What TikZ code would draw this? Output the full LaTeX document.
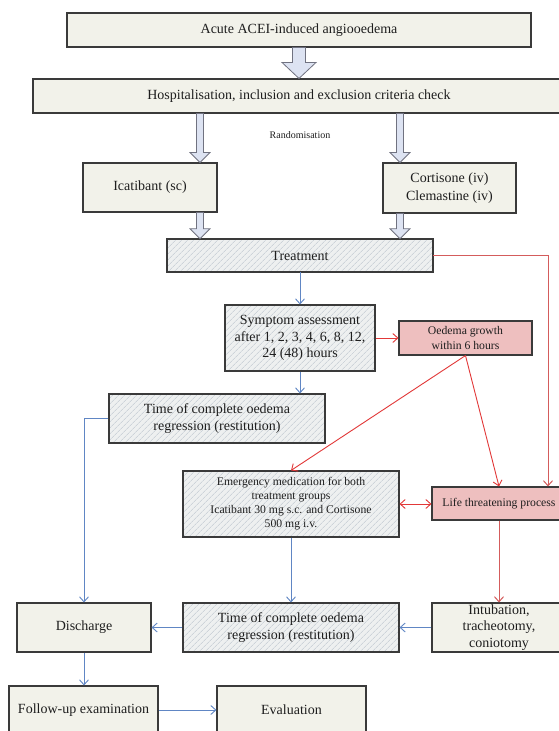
\documentclass[tikz,border=0pt]{standalone}
\usepackage{fontspec}
\setmainfont{Liberation Serif}
\usetikzlibrary{arrows.meta,patterns.meta,calc}
\definecolor{boxfill}{RGB}{242,242,234}
\definecolor{hatchbg}{RGB}{238,240,240}
\definecolor{hatchln}{RGB}{188,196,206}
\definecolor{pinkbg}{RGB}{240,196,196}
\definecolor{pinkdot}{RGB}{218,146,146}
\definecolor{edge}{RGB}{58,58,58}
\definecolor{bluel}{RGB}{96,134,196}
\definecolor{redl}{RGB}{226,56,56}
\definecolor{redsoft}{RGB}{212,92,92}
\definecolor{hafill}{RGB}{221,227,242}
\definecolor{haedge}{RGB}{112,114,128}
\definecolor{txt}{RGB}{30,30,30}
\tikzset{
 box/.style={draw=edge, line width=1.1pt, fill=boxfill, inner sep=0pt, align=center, text=txt, font=\fontsize{14}{16.5}\selectfont},
 hatched/.style={box, fill=none, preaction={fill=hatchbg}, pattern={Lines[angle=45,distance=4pt,line width=0.6pt]}, pattern color=hatchln},
 pinkbox/.style={box, fill=none, preaction={fill=pinkbg}, pattern={Dots[distance=2pt,radius=0.45pt]}, pattern color=pinkdot, font=\fontsize{11.7}{15}\selectfont},
 bluearr/.style={draw=bluel, line width=0.9pt, -{Straight Barb[length=5pt,width=9pt]}},
 redarr/.style={draw=redl, line width=0.9pt, -{Straight Barb[length=5pt,width=9pt]}},
 softredarr/.style={redarr, draw=redsoft, line width=1pt},
 hollow/.style={draw=haedge, fill=hafill, line width=0.8pt, line join=miter},
}
\newcommand\hollowarrow[5]{%
 \path[hollow] let \p1=#1, \p2=#2 in
 (\x1-#3,\y1) -- (\x1-#3,\y2+#5) -- (\x1-#4,\y2+#5) -- (\x1,\y2) --
 (\x1+#4,\y2+#5) -- (\x1+#3,\y2+#5) -- (\x1+#3,\y1) -- cycle;}
\begin{document}
\begin{tikzpicture}[x=1pt,y=-1pt]
\useasboundingbox (0,0) rectangle (559,731);
\clip (0,0) rectangle (559,731);
\fill[white] (0,0) rectangle (559,731);
% columns
\coordinate (colL) at (200,0);
\coordinate (colR) at (400,0);
\coordinate (redx) at (548,0);
% nodes
\node[box, minimum width=464pt, minimum height=34pt] (acute) at (299,30) {Acute ACEI-induced angiooedema};
\node[box, minimum width=532pt, minimum height=34pt] (hosp) at (299,96) {Hospitalisation, inclusion and exclusion criteria check};
\node[text=txt, font=\fontsize{10}{12}\selectfont, inner sep=0pt] (rand) at (300,135) {Randomisation};
\node[box, minimum width=134pt, minimum height=49pt] (icat) at (150,187.5) {Icatibant (sc)};
\node[box, minimum width=133pt, minimum height=50pt, font=\fontsize{14}{17.5}\selectfont] (cort) at (449.5,188) {Cortisone (iv)\\Clemastine (iv)};
\node[hatched, minimum width=266pt, minimum height=33pt] (treat) at (300,255.5) {Treatment};
\node[hatched, minimum width=150pt, minimum height=66pt] (symp) at (300,338) {Symptom assessment\\after 1, 2, 3, 4, 6, 8, 12,\\24 (48) hours};
\node[pinkbox, minimum width=133pt, minimum height=34pt] (oed) at (465.5,338) {Oedema growth\\within 6 hours};
\node[hatched, minimum width=216pt, minimum height=49pt] (time1) at (217,418.5) {Time of complete oedema\\regression (restitution)};
\node[hatched, minimum width=216pt, minimum height=66pt, font=\fontsize{11.7}{14}\selectfont] (emerg) at (291,504) {Emergency medication for both\\treatment groups\\Icatibant 30 mg s.c. and Cortisone\\500 mg i.v.};
\node[pinkbox, minimum width=134pt, minimum height=33pt] (life) at (499,503.5) {Life threatening process};
\node[hatched, minimum width=216pt, minimum height=49pt] (time2) at (291,627.5) {Time of complete oedema\\regression (restitution)};
\node[box, minimum width=134pt, minimum height=49pt] (intub) at (499,627.5) {Intubation,\\tracheotomy,\\coniotomy};
\node[box, minimum width=134pt, minimum height=49pt] (disch) at (84,627.5) {Discharge};
\node[box, minimum width=149pt, minimum height=48pt] (follow) at (83.5,710) {Follow-up examination};
\node[box, minimum width=149pt, minimum height=48pt] (eval) at (291.5,710) {Evaluation};
% hollow block arrows
\hollowarrow{(acute.south)}{(hosp.north)}{6.5pt}{17pt}{16pt}
\hollowarrow{(colL |- hosp.south)}{(colL |- icat.north)}{3.5pt}{10pt}{10pt}
\hollowarrow{(colR |- hosp.south)}{(colR |- cort.north)}{3.5pt}{10pt}{10pt}
\hollowarrow{(colL |- icat.south)}{(colL |- treat.north)}{3.5pt}{10pt}{10pt}
\hollowarrow{(colR |- cort.south)}{(colR |- treat.north)}{3.5pt}{10pt}{10pt}
% connectors
\draw[softredarr] (treat.east) -| (redx |- life.north);
\draw[bluearr] (treat.south) -- (symp.north);
\draw[redarr] (symp.east) -- (symp.east -| oed.west);
\draw[bluearr] (symp.south) -- (symp.south |- time1.north);
\draw[bluearr] (time1.west) -| (disch.north);
\draw[redarr] (oed.south) -- (emerg.north);
\draw[redarr] (oed.south) -- (life.north);
\draw[redarr, {Straight Barb[length=5pt,width=9pt]}-{Straight Barb[length=5pt,width=9pt]}] (emerg.east) -- (emerg.east -| life.west);
\draw[bluearr] (emerg.south) -- (time2.north);
\draw[softredarr] (life.south) -- (intub.north);
\draw[bluearr] (intub.west) -- (time2.east);
\draw[bluearr] (time2.west) -- (disch.east);
\draw[bluearr] (disch.south) -- (disch.south |- follow.north);
\draw[bluearr] (follow.east) -- (eval.west);
\end{tikzpicture}
\end{document}
